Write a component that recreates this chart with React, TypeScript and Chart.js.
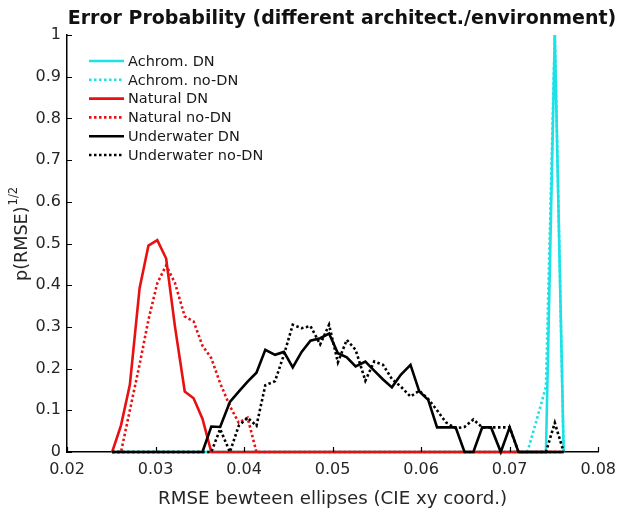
import { useEffect, useRef } from "react";
import { Chart, registerables } from "chart.js";

Chart.register(...registerables);

// RMSE bin positions (CIE xy), shared by all curves
const rmse = [
  0.0251, 0.0261, 0.0271, 0.0282, 0.0292, 0.0302, 0.0312, 0.0322, 0.0333, 0.0343,
  0.0353, 0.0363, 0.0373, 0.0384, 0.0394, 0.0404, 0.0414, 0.0424, 0.0435, 0.0445,
  0.0455, 0.0465, 0.0475, 0.0486, 0.0496, 0.0506, 0.0516, 0.0526, 0.0537, 0.0547,
  0.0557, 0.0567, 0.0577, 0.0588, 0.0598, 0.0608, 0.0618, 0.0628, 0.0639, 0.0649,
  0.0659, 0.0669, 0.0679, 0.0690, 0.0700, 0.0710, 0.0720, 0.0730, 0.0741, 0.0751,
  0.0761,
];

const achromDN = [
  0, 0, 0, 0, 0, 0, 0, 0, 0, 0,
  0, 0, 0, 0, 0, 0, 0, 0, 0, 0,
  0, 0, 0, 0, 0, 0, 0, 0, 0, 0,
  0, 0, 0, 0, 0, 0, 0, 0, 0, 0,
  0, 0, 0, 0, 0, 0, 0, 0, 0, 1,
  0,
];

const achromNoDN = [
  0, 0, 0, 0, 0, 0, 0, 0, 0, 0,
  0, 0, 0, 0, 0, 0, 0, 0, 0, 0,
  0, 0, 0, 0, 0, 0, 0, 0, 0, 0,
  0, 0, 0, 0, 0, 0, 0, 0, 0, 0,
  0, 0, 0, 0, 0, 0, 0, 0.073, 0.157, 1,
  0,
];

const naturalDN = [
  0, 0.064, 0.161, 0.393, 0.495, 0.508, 0.464, 0.3, 0.145, 0.129,
  0.08, 0, 0, 0, 0, 0, 0, 0, 0, 0,
  0, 0, 0, 0, 0, 0, 0, 0, 0, 0,
  0, 0, 0, 0, 0, 0, 0, 0, 0, 0,
  0, 0, 0, 0, 0, 0, 0, 0, 0, 0,
  0,
];

const naturalNoDN = [
  0, 0, 0.1, 0.21, 0.317, 0.405, 0.447, 0.405, 0.325, 0.313,
  0.255, 0.225, 0.165, 0.11, 0.07, 0.082, 0, 0, 0, 0,
  0, 0, 0, 0, 0, 0, 0, 0, 0, 0,
  0, 0, 0, 0, 0, 0, 0, 0, 0, 0,
  0, 0, 0, 0, 0, 0, 0, 0, 0, 0,
  0,
];

const underwaterDN = [
  0, 0, 0, 0, 0, 0, 0, 0, 0, 0,
  0, 0.061, 0.06, 0.12, 0.145, 0.169, 0.19, 0.245, 0.233, 0.24,
  0.203, 0.24, 0.267, 0.273, 0.284, 0.237, 0.227, 0.205, 0.217, 0.195,
  0.174, 0.155, 0.185, 0.209, 0.145, 0.125, 0.059, 0.059, 0.059, 0,
  0, 0.059, 0.059, 0, 0.059, 0, 0, 0, 0, 0,
  0,
];

const underwaterNoDN = [
  0, 0, 0, 0, 0, 0, 0, 0, 0, 0,
  0, 0, 0.055, 0, 0.063, 0.082, 0.063, 0.16, 0.17, 0.233,
  0.305, 0.297, 0.302, 0.258, 0.305, 0.215, 0.269, 0.245, 0.171, 0.217,
  0.209, 0.175, 0.157, 0.133, 0.147, 0.127, 0.1, 0.071, 0.057, 0.06,
  0.078, 0.059, 0.059, 0.059, 0.059, 0, 0, 0, 0, 0.07,
  0,
];

const TITLE = "Error Probability (different architect./environment)";
const X_TITLE = "RMSE bewteen ellipses (CIE xy coord.)";
const FONT = "'DejaVu Sans', sans-serif";
const CYAN = "rgb(28, 226, 230)";
const RED = "rgb(232, 16, 18)";
const BLACK = "#000000";
const TEXT = "#262626";

const series = [
  { label: "Achrom. DN", values: achromDN, color: CYAN, dotted: false },
  { label: "Achrom. no-DN", values: achromNoDN, color: CYAN, dotted: true },
  { label: "Natural DN", values: naturalDN, color: RED, dotted: false },
  { label: "Natural no-DN", values: naturalNoDN, color: RED, dotted: true },
  { label: "Underwater DN", values: underwaterDN, color: BLACK, dotted: false },
  { label: "Underwater no-DN", values: underwaterNoDN, color: BLACK, dotted: true },
];

const DASH = [2.5, 2.5];
const LINE_W = 2.6;

// title, axis titles, in-axes legend and inward tick marks (matlab look)
const overlay = {
  id: "overlay",
  afterDraw(chart: any) {
    const { ctx, chartArea: a, scales } = chart;
    ctx.save();

    ctx.strokeStyle = BLACK;
    ctx.lineWidth = 1.2;
    ctx.beginPath();
    scales.y.ticks.forEach((t: any) => {
      const y = Math.round(scales.y.getPixelForValue(t.value)) + 0.5;
      ctx.moveTo(a.left, y);
      ctx.lineTo(a.left + 5, y);
    });
    scales.x.ticks.forEach((t: any) => {
      const x = Math.round(scales.x.getPixelForValue(t.value)) + 0.5;
      ctx.moveTo(x, a.bottom);
      ctx.lineTo(x, a.bottom - 5);
    });
    ctx.stroke();

    ctx.fillStyle = "#111";
    ctx.font = `bold 19px ${FONT}`;
    ctx.textAlign = "center";
    ctx.textBaseline = "alphabetic";
    ctx.fillText(TITLE, 342, 23.5);

    ctx.fillStyle = TEXT;
    ctx.font = `18.2px ${FONT}`;
    ctx.fillText(X_TITLE, (a.left + a.right) / 2, 504);

    ctx.save();
    ctx.translate(27, 281);
    ctx.rotate(-Math.PI / 2);
    ctx.textAlign = "left";
    ctx.font = `17.6px ${FONT}`;
    ctx.fillText("p(RMSE)", 0, 0);
    const w = ctx.measureText("p(RMSE)").width;
    ctx.font = `11.5px ${FONT}`;
    ctx.fillText("1/2", w + 1, -10);
    ctx.restore();

    // legend
    ctx.font = `14.5px ${FONT}`;
    ctx.textAlign = "left";
    ctx.textBaseline = "middle";
    series.forEach((s, i) => {
      const y = 61 + i * 18.8;
      ctx.strokeStyle = s.color;
      ctx.lineWidth = LINE_W;
      ctx.setLineDash(s.dotted ? DASH : []);
      ctx.beginPath();
      ctx.moveTo(89, y);
      ctx.lineTo(124, y);
      ctx.stroke();
      ctx.fillStyle = "#1a1a1a";
      ctx.fillText(s.label, 128, y + 1);
    });

    ctx.restore();
  },
};

export default function App() {
  const canvasRef = useRef<HTMLCanvasElement>(null);
  const chartRef = useRef<Chart | null>(null);

  useEffect(() => {
    document.body.style.margin = "0";
    if (!canvasRef.current) return;
    if (chartRef.current) chartRef.current.destroy();

    chartRef.current = new Chart(canvasRef.current, {
      type: "line",
      data: {
        datasets: series.map((s, i) => ({
          label: s.label,
          data: rmse.map((x, j) => ({ x, y: s.values[j] })),
          borderColor: s.color,
          backgroundColor: s.color,
          borderWidth: LINE_W,
          borderDash: s.dotted ? DASH : [],
          pointRadius: 0,
          tension: 0,
          fill: false,
          clip: false,
          order: series.length - 1 - i,
        })),
      },
      options: {
        animation: false,
        responsive: true,
        maintainAspectRatio: false,
        layout: { padding: { top: 35, right: 25, left: 0, bottom: 0 } },
        plugins: {
          legend: { display: false },
          title: { display: false },
          tooltip: { enabled: false },
        },
        scales: {
          x: {
            type: "linear",
            min: 0.02,
            max: 0.08,
            ticks: {
              stepSize: 0.01,
              padding: 8,
              color: TEXT,
              font: { family: FONT, size: 16 },
              maxRotation: 0,
              callback: (v: any) => String(Math.round(Number(v) * 100) / 100),
            },
            grid: { drawOnChartArea: false, drawTicks: false },
            border: { display: true, color: BLACK, width: 1.5 },
            afterFit: (scale: any) => {
              scale.height = 56;
            },
          },
          y: {
            min: 0,
            max: 1,
            ticks: {
              stepSize: 0.1,
              padding: 6,
              color: TEXT,
              font: { family: FONT, size: 16 },
              callback: (v: any) => String(Math.round(Number(v) * 10) / 10),
            },
            grid: { drawOnChartArea: false, drawTicks: false },
            border: { display: true, color: BLACK, width: 1.5 },
            afterFit: (scale: any) => {
              scale.width = 67;
            },
          },
        },
      },
      plugins: [overlay],
    });

    return () => {
      if (chartRef.current) {
        chartRef.current.destroy();
        chartRef.current = null;
      }
    };
  }, []);

  return (
    <div style={{ width: "624px", height: "508px", background: "#fff" }}>
      <canvas ref={canvasRef} />
    </div>
  );
}
